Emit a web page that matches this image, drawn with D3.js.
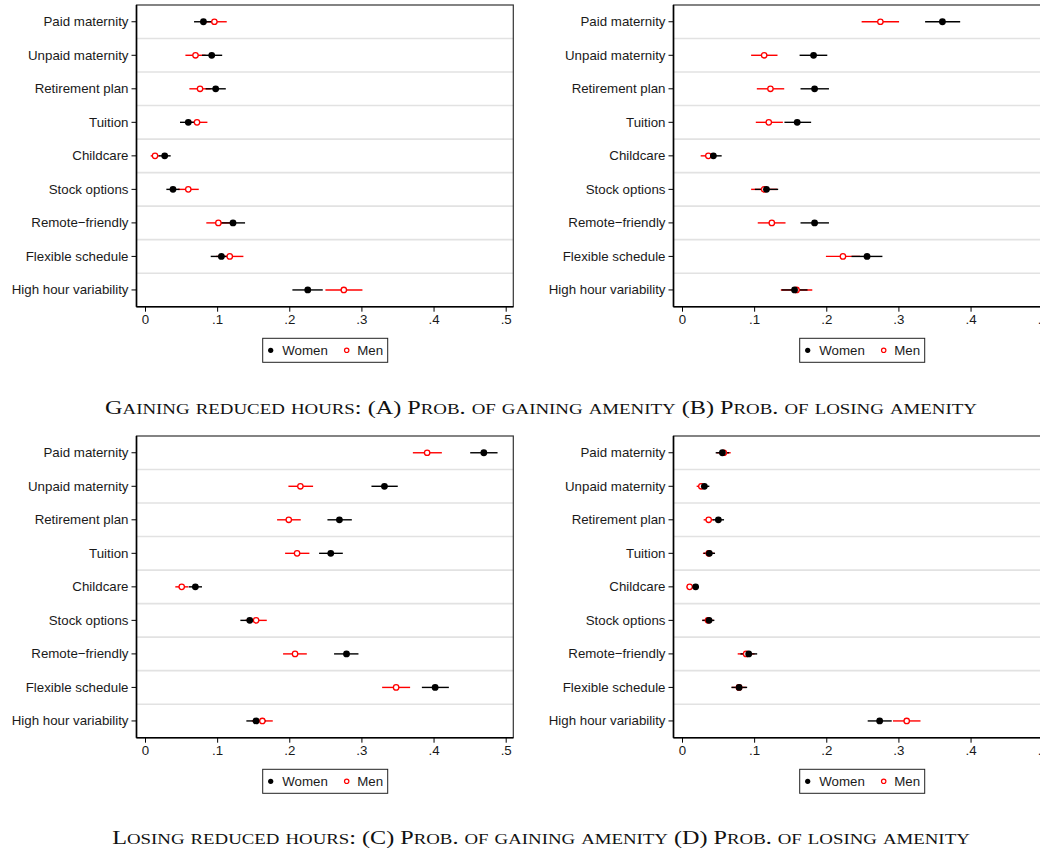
<!DOCTYPE html>
<html><head><meta charset="utf-8">
<script src="https://cdn.jsdelivr.net/npm/d3@7"></script>
<style>body{margin:0;background:#fff;overflow:hidden} svg{display:block}</style>
</head><body><svg id="c" width="1040" height="849"></svg>
<script>
// ---------- data ----------
const categories = ["Paid maternity","Unpaid maternity","Retirement plan","Tuition","Childcare",
  "Stock options","Remote\u2212friendly","Flexible schedule","High hour variability"];
const seriesNames = ["Women","Men"];
const xTicks = [0, 0.1, 0.2, 0.3, 0.4, 0.5];
const xTickLabels = ["0", ".1", ".2", ".3", ".4", ".5"];
// [estimate, lower, upper]
const A_women = [[0.081,0.068,0.094],[0.0925,0.079,0.107],[0.098,0.084,0.112],[0.060,0.0485,0.0715],[0.0273,0.019,0.0356],
  [0.0388,0.0296,0.048],[0.122,0.105,0.1387],[0.1059,0.0911,0.1207],[0.2256,0.2043,0.2464]];
const A_men = [[0.0962,0.079,0.1133],[0.070,0.056,0.084],[0.0763,0.0615,0.091],[0.0721,0.0577,0.0865],[0.0139,0.0079,0.020],
  [0.060,0.0455,0.0745],[0.1017,0.085,0.118],[0.1175,0.0986,0.1364],[0.2756,0.2501,0.3014]];
const B_women = [[0.361,0.337,0.3856],[0.1824,0.163,0.2014],[0.1838,0.1643,0.2037],[0.1597,0.142,0.179],[0.0435,0.032,0.055],
  [0.1171,0.101,0.1333],[0.1838,0.1643,0.2037],[0.2565,0.235,0.2778],[0.156,0.138,0.174]];
const B_men = [[0.275,0.249,0.3009],[0.1139,0.0958,0.1324],[0.1226,0.1037,0.1417],[0.1203,0.1023,0.1398],[0.0365,0.0259,0.047],
  [0.1139,0.0958,0.132],[0.1245,0.105,0.1435],[0.2231,0.1995,0.2467],[0.1588,0.137,0.1806]];
const C_women = [[0.4697,0.4508,0.4887],[0.3319,0.3139,0.3504],[0.2695,0.2529,0.2867],[0.2575,0.2413,0.2742],[0.0698,0.0606,0.079],
  [0.1452,0.1322,0.158],[0.2793,0.2621,0.2959],[0.4022,0.3838,0.4212],[0.154,0.1405,0.1675]];
const C_men = [[0.3911,0.3713,0.4115],[0.2154,0.1988,0.233],[0.1993,0.1831,0.2159],[0.2108,0.1942,0.2279],[0.0509,0.042,0.060],
  [0.154,0.139,0.1688],[0.208,0.1914,0.2243],[0.3481,0.3287,0.3675],[0.1627,0.148,0.1771]];
const D_women = [[0.056,0.0467,0.0653],[0.031,0.024,0.0379],[0.0504,0.0425,0.0583],[0.0379,0.030,0.0458],[0.0189,0.0142,0.0236],
  [0.0375,0.0282,0.0449],[0.0925,0.081,0.1042],[0.0792,0.0685,0.0903],[0.274,0.2574,0.2907]];
const D_men = [[0.058,0.048,0.0675],[0.0268,0.0203,0.033],[0.037,0.030,0.044],[0.037,0.029,0.045],[0.0106,0.0064,0.015],
  [0.036,0.028,0.044],[0.0889,0.0772,0.1006],[0.079,0.069,0.089],[0.3115,0.2925,0.3306]];
const captions = [
  "Gaining reduced hours: (A) Prob. of gaining amenity (B) Prob. of losing amenity",
  "Losing reduced hours: (C) Prob. of gaining amenity (D) Prob. of losing amenity"];

// ---------- layout ----------
const svg = d3.select("#c");
const panels = [
  {women: A_women, men: A_men, dx: 0,   dy: 0},
  {women: B_women, men: B_men, dx: 537, dy: 0},
  {women: C_women, men: C_men, dx: 0,   dy: 431},
  {women: D_women, men: D_men, dx: 537, dy: 431}];
const frame = {left: 136.5, right: 513.3, top: 5, bottom: 306.7};
const textFont = "'Liberation Sans', Arial, Helvetica, sans-serif";
const RED = "#ff0000";

panels.forEach(p => {
  const g = svg.append("g").attr("transform", `translate(${p.dx},${p.dy})`);
  const x = d3.scaleLinear().domain([0, 0.5]).range([145, 505.7]);
  const y = d3.scaleBand().domain(categories).range([frame.top, frame.bottom]).padding(0);
  const yc = c => y(c) + y.bandwidth() / 2;

  // gridlines between rows
  g.append("g").selectAll("line").data(categories.slice(1)).join("line")
    .attr("x1", frame.left).attr("x2", frame.right)
    .attr("y1", c => y(c)).attr("y2", c => y(c))
    .attr("stroke", "#e2e2e2").attr("stroke-width", 1.6);

  // frame
  g.append("rect").attr("x", frame.left).attr("y", frame.top)
    .attr("width", frame.right - frame.left).attr("height", frame.bottom - frame.top)
    .attr("fill", "none").attr("stroke", "#333").attr("stroke-width", 1.2);

  // x axis
  const xAxis = d3.axisBottom(x).tickValues(xTicks).tickSize(5).tickPadding(3)
    .tickFormat((d, i) => xTickLabels[i]);
  const xa = g.append("g").attr("transform", `translate(0,${frame.bottom})`).call(xAxis);
  xa.select(".domain").attr("d", `M${frame.left},0H${frame.right}`).attr("stroke", "#000").attr("stroke-width", 1.6);
  xa.selectAll(".tick line").attr("stroke", "#000").attr("stroke-width", 1);
  xa.selectAll("text").attr("font-family", textFont).attr("font-size", "13.3px").attr("fill", "#1a1a1a");

  // y axis
  const yAxis = d3.axisLeft(y).tickSize(5).tickPadding(3);
  const ya = g.append("g").attr("transform", `translate(${frame.left},0)`).call(yAxis);
  ya.select(".domain").attr("d", `M0,${frame.top}V${frame.bottom}`).attr("stroke", "#000").attr("stroke-width", 1.6);
  ya.selectAll(".tick line").attr("stroke", "#000").attr("stroke-width", 1);
  ya.selectAll("text").attr("font-family", textFont).attr("font-size", "13.3px").attr("fill", "#1a1a1a");

  // error bars: men, then women on top
  const bars = (data, color) => g.append("g").selectAll("line").data(data).join("line")
    .attr("x1", d => x(d[1])).attr("x2", d => x(d[2]))
    .attr("y1", (d, i) => yc(categories[i])).attr("y2", (d, i) => yc(categories[i]))
    .attr("stroke", color).attr("stroke-width", 1.4);
  bars(p.men, RED);
  bars(p.women, "#000");

  g.append("g").selectAll("circle").data(p.men).join("circle")
    .attr("cx", d => x(d[0])).attr("cy", (d, i) => yc(categories[i])).attr("r", 2.7)
    .attr("fill", "#fff").attr("stroke", RED).attr("stroke-width", 1.3);
  g.append("g").selectAll("circle").data(p.women).join("circle")
    .attr("cx", d => x(d[0])).attr("cy", (d, i) => yc(categories[i])).attr("r", 3.4)
    .attr("fill", "#000");

  // legend
  const lg = g.append("g");
  lg.append("rect").attr("x", 262.7).attr("y", 338.3).attr("width", 125).attr("height", 24)
    .attr("fill", "#fff").attr("stroke", "#222").attr("stroke-width", 1);
  lg.append("circle").attr("cx", 270.7).attr("cy", 350.3).attr("r", 2.6).attr("fill", "#000");
  lg.append("text").attr("x", 282.3).attr("y", 355.2).text(seriesNames[0])
    .attr("font-family", textFont).attr("font-size", "13.3px").attr("fill", "#1a1a1a");
  lg.append("circle").attr("cx", 346.7).attr("cy", 350.3).attr("r", 2.2)
    .attr("fill", "#fff").attr("stroke", RED).attr("stroke-width", 1.2);
  lg.append("text").attr("x", 357.3).attr("y", 355.2).text(seriesNames[1])
    .attr("font-family", textFont).attr("font-size", "13.3px").attr("fill", "#1a1a1a");
});

// captions: serif small caps built from tspans (lowercase -> smaller capitals),
// stretched horizontally to the reference width (wide Computer Modern look)
const capY = [414.5, 844.5];
const capW = [872, 858];
const capSize = 18.5;
const scRatio = 0.78;
captions.forEach((t, i) => {
  const tx = svg.append("text").attr("x", 541).attr("y", capY[i]).attr("text-anchor", "middle")
    .attr("font-family", "'Liberation Serif', 'DejaVu Serif', serif")
    .attr("font-size", capSize).attr("fill", "#111");
  const runs = t.match(/[a-z]+|[^a-z]+/g);
  runs.forEach(r => {
    const lower = /^[a-z]/.test(r);
    tx.append("tspan").attr("font-size", lower ? capSize * scRatio : capSize)
      .text(lower ? r.toUpperCase() : r);
  });
  const L = tx.node().getComputedTextLength();
  const s = capW[i] / L;
  tx.attr("transform", `translate(541,${capY[i]}) scale(${s},1) translate(-541,${-capY[i]})`);
});
</script></body></html>
